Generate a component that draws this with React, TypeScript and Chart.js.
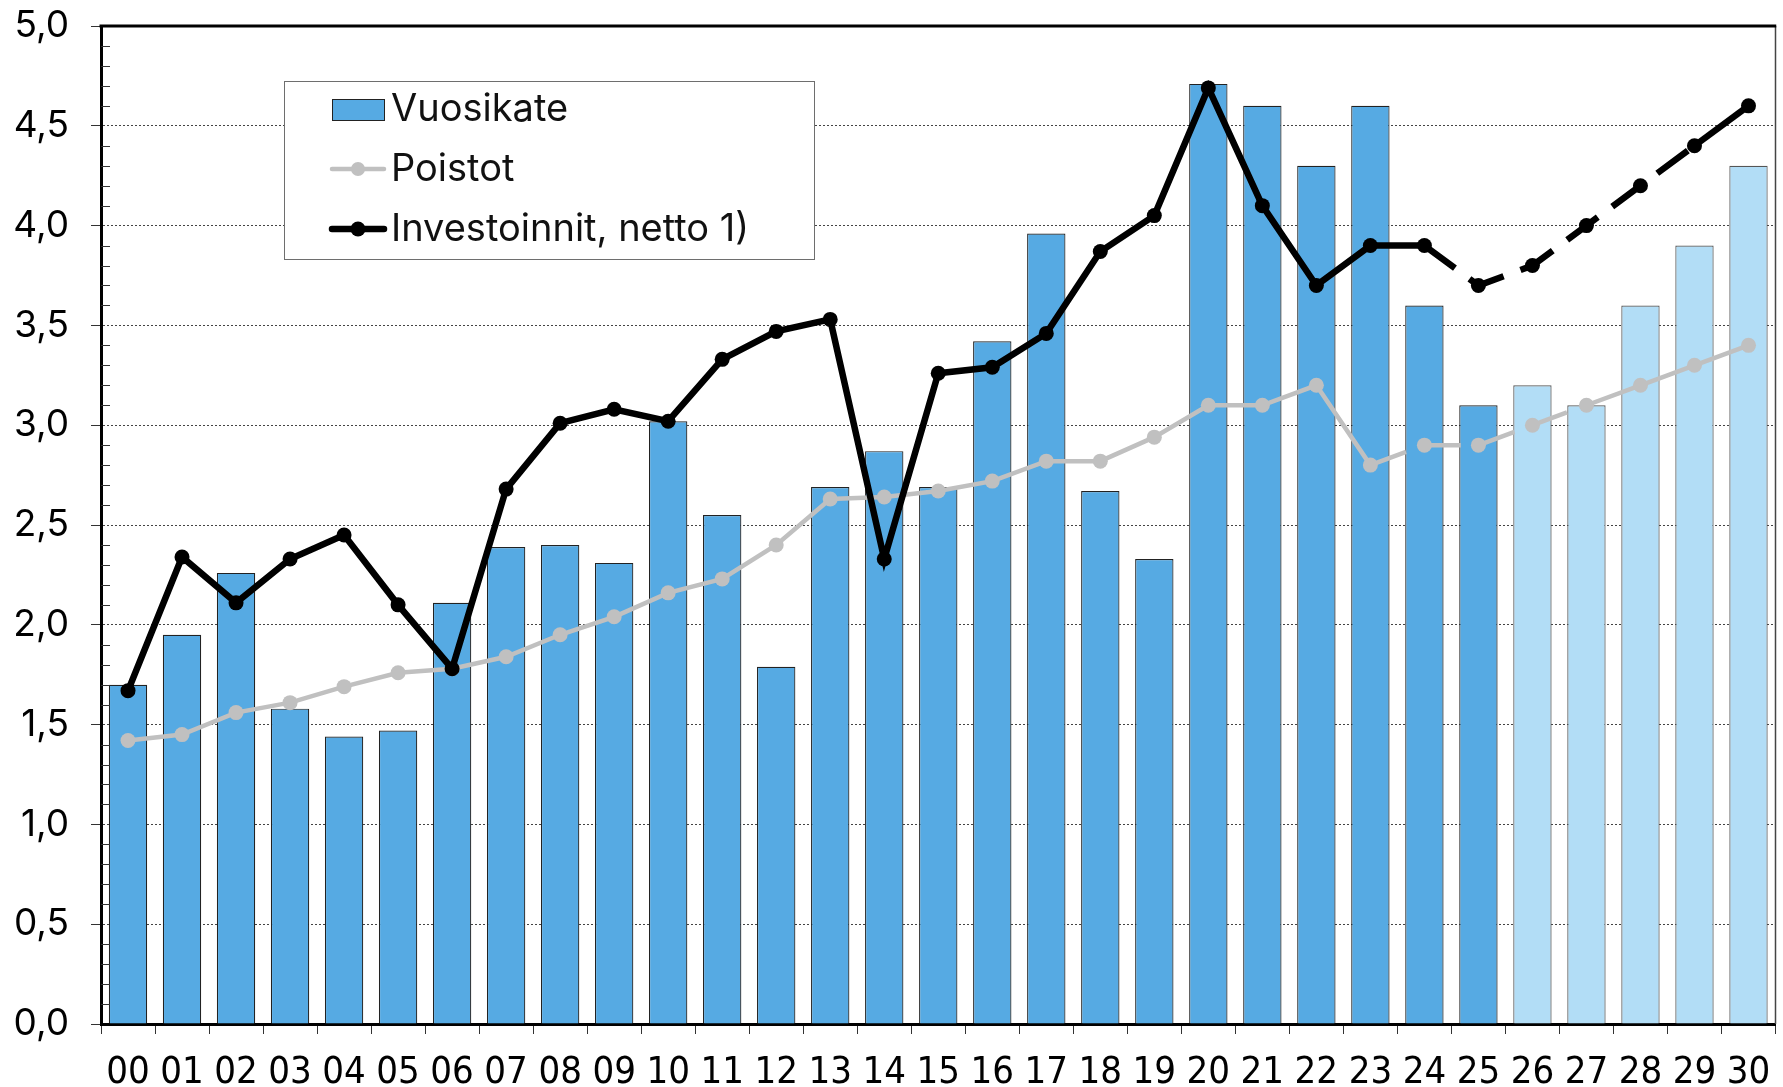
import React, { useEffect, useRef } from "react";
import { Chart, registerables } from "chart.js";

Chart.register(...registerables);

const categories = [
  "00", "01", "02", "03", "04", "05", "06", "07", "08", "09",
  "10", "11", "12", "13", "14", "15", "16", "17", "18", "19",
  "20", "21", "22", "23", "24", "25", "26", "27", "28", "29", "30",
];

const vuosikate = [
  1.70, 1.95, 2.26, 1.58, 1.44, 1.47, 2.11, 2.39, 2.40, 2.31,
  3.02, 2.55, 1.79, 2.69, 2.87, 2.69, 3.42, 3.96, 2.67, 2.33,
  4.71, 4.60, 4.30, 4.60, 3.60, 3.10, 3.20, 3.10, 3.60, 3.90, 4.30,
];

const poistot = [
  1.42, 1.45, 1.56, 1.61, 1.69, 1.76, 1.78, 1.84, 1.95, 2.04,
  2.16, 2.23, 2.40, 2.63, 2.64, 2.67, 2.72, 2.82, 2.82, 2.94,
  3.10, 3.10, 3.20, 2.80, 2.90, 2.90, 3.00, 3.10, 3.20, 3.30, 3.40,
];

const investoinnit = [
  1.67, 2.34, 2.11, 2.33, 2.45, 2.10, 1.78, 2.68, 3.01, 3.08,
  3.02, 3.33, 3.47, 3.53, 2.33, 3.26, 3.29, 3.46, 3.87, 4.05,
  4.69, 4.10, 3.70, 3.90, 3.90, 3.70, 3.80, 4.00, 4.20, 4.40, 4.60,
];

const seriesLabels = ["Vuosikate", "Poistot", "Investoinnit, netto 1)"];

// first category index of the lighter (forecast) bars
const forecastBarStart = 26;
// dashed line ranges: segment starting indexes [from, to)
const poistotDashed = [23, 27];
const investDashed = [24, 29];

const DARK_BLUE = "#56aae3";
const LIGHT_BLUE = "#b2ddf6";
const GRAY = "#c0c0c0";
const BLACK = "#000000";

const yFont = "Inter, 'Noto Sans', sans-serif";
const xFont = "'Liberation Sans Narrow', 'DejaVu Sans Condensed', 'Arial Narrow', sans-serif";

const framePlugin = {
  id: "frameAndMinor",
  afterDraw(chart: any) {
    const { ctx, chartArea } = chart;
    const y = chart.scales.y;
    ctx.save();
    // minor ticks inward
    ctx.strokeStyle = "#333";
    ctx.lineWidth = 1;
    for (let i = 1; i < 50; i++) {
      if (i % 5 === 0) continue;
      const py = Math.round(y.getPixelForValue(i / 10)) + 0.5;
      ctx.beginPath();
      ctx.moveTo(chartArea.left, py);
      ctx.lineTo(chartArea.left + 9, py);
      ctx.stroke();
    }
    // right border (thin)
    ctx.strokeStyle = "#444";
    ctx.lineWidth = 1.5;
    ctx.beginPath();
    ctx.moveTo(chartArea.right, chartArea.top);
    ctx.lineTo(chartArea.right, chartArea.bottom);
    ctx.stroke();
    // top border (thick)
    ctx.strokeStyle = "#000";
    ctx.lineWidth = 3;
    ctx.beginPath();
    ctx.moveTo(chartArea.left - 1.5, chartArea.top);
    ctx.lineTo(chartArea.right + 0.75, chartArea.top);
    ctx.stroke();
    ctx.restore();
  },
};

const legendPlugin = {
  id: "boxLegend",
  afterDraw(chart: any) {
    const { ctx } = chart;
    const x0 = 284, y0 = 81, x1 = 814, y1 = 259;
    ctx.save();
    ctx.fillStyle = "#fff";
    ctx.fillRect(x0, y0, x1 - x0, y1 - y0);
    ctx.strokeStyle = "#6e6e6e";
    ctx.lineWidth = 1;
    ctx.strokeRect(x0 + 0.5, y0 + 0.5, x1 - x0, y1 - y0);

    const symL = 332, symR = 384, textX = 391;
    const rows = [109, 169, 229];

    // bar symbol
    ctx.fillStyle = DARK_BLUE;
    ctx.fillRect(symL, rows[0] - 10, symR - symL, 21);
    ctx.strokeStyle = "#222";
    ctx.lineWidth = 1;
    ctx.strokeRect(symL + 0.5, rows[0] - 10 + 0.5, symR - symL, 21);

    // poistot symbol
    ctx.strokeStyle = GRAY;
    ctx.lineWidth = 4.5;
    ctx.lineCap = "round";
    ctx.beginPath();
    ctx.moveTo(symL, rows[1]);
    ctx.lineTo(symR, rows[1]);
    ctx.stroke();
    ctx.fillStyle = GRAY;
    ctx.beginPath();
    ctx.arc((symL + symR) / 2, rows[1], 7, 0, Math.PI * 2);
    ctx.fill();

    // investoinnit symbol
    ctx.strokeStyle = BLACK;
    ctx.lineWidth = 6.5;
    ctx.beginPath();
    ctx.moveTo(symL, rows[2]);
    ctx.lineTo(symR, rows[2]);
    ctx.stroke();
    ctx.fillStyle = BLACK;
    ctx.beginPath();
    ctx.arc((symL + symR) / 2, rows[2], 7.5, 0, Math.PI * 2);
    ctx.fill();

    ctx.fillStyle = "#111";
    ctx.font = `38px ${yFont}`;
    ctx.textBaseline = "middle";
    ctx.textAlign = "left";
    seriesLabels.forEach((t, i) => ctx.fillText(t, textX, rows[i] + 1));
    ctx.restore();
  },
};

function inRange(i: number, r: number[]) {
  return i >= r[0] && i < r[1];
}

export default function App() {
  const ref = useRef<HTMLCanvasElement | null>(null);

  useEffect(() => {
    document.body.style.margin = "0";
    const canvas = ref.current;
    if (!canvas) return;
    const chart = new Chart(canvas, {
      type: "bar",
      data: {
        labels: categories,
        datasets: [
          {
            type: "line",
            label: seriesLabels[2],
            data: investoinnit,
            borderColor: BLACK,
            backgroundColor: BLACK,
            borderWidth: 6.5,
            pointRadius: 7.5,
            pointHoverRadius: 7.5,
            pointBackgroundColor: BLACK,
            pointBorderWidth: 0,
            tension: 0,
            order: 0,
            borderCapStyle: "butt",
            segment: {
              borderDash: (c: any) => (inRange(c.p0DataIndex, investDashed) ? [38, 18] : undefined),
            },
          } as any,
          {
            type: "line",
            label: seriesLabels[1],
            data: poistot,
            borderColor: GRAY,
            backgroundColor: GRAY,
            borderWidth: 4.5,
            pointRadius: 7.5,
            pointHoverRadius: 7.5,
            pointBackgroundColor: GRAY,
            pointBorderWidth: 0,
            tension: 0,
            order: 1,
            segment: {
              borderDash: (c: any) => (inRange(c.p0DataIndex, poistotDashed) ? [38, 18] : undefined),
            },
          } as any,
          {
            type: "bar",
            label: seriesLabels[0],
            data: vuosikate,
            backgroundColor: categories.map((_, i) => (i >= forecastBarStart ? LIGHT_BLUE : DARK_BLUE)),
            borderColor: categories.map((_, i) => (i >= forecastBarStart ? "#555" : "#222")),
            borderWidth: 1.2,
            barPercentage: 0.71,
            categoryPercentage: 1,
            order: 2,
          },
        ],
      },
      options: {
        responsive: false,
        animation: false,
        layout: { padding: { top: 26, right: 2, left: 0, bottom: 0 } },
        plugins: {
          legend: { display: false },
          tooltip: { enabled: false },
        },
        scales: {
          x: {
            offset: true,
            grid: {
              offset: true,
              drawOnChartArea: false,
              drawTicks: true,
              tickLength: 10,
              tickColor: "#333",
              tickWidth: 1,
            },
            border: { display: true, color: "#000", width: 3 },
            ticks: {
              color: "#000",
              font: { family: xFont, size: 38 },
              padding: 16,
              maxRotation: 0,
              autoSkip: false,
            },
            afterFit: (s: any) => {
              s.height = 63;
              s.paddingLeft = 0;
              s.paddingRight = 0;
            },
          },
          y: {
            min: 0,
            max: 5,
            ticks: {
              stepSize: 0.5,
              color: "#000",
              font: { family: yFont, size: 37 },
              padding: 22,
              callback: (v: any) => Number(v).toFixed(1).replace(".", ","),
            },
            grid: {
              color: "#444",
              lineWidth: 1,
              drawTicks: true,
              tickLength: 10,
              tickColor: "#333",
            },
            border: { display: true, color: "#000", width: 3, dash: [2, 2] },
            afterFit: (s: any) => {
              s.width = 101;
              s.paddingTop = 0;
              s.paddingBottom = 0;
            },
          },
        },
      },
      plugins: [framePlugin, legendPlugin],
    });
    return () => chart.destroy();
  }, []);

  return (
    <div style={{ width: 1783, height: 1087 }}>
      <canvas ref={ref} width={1783} height={1087} style={{ display: "block" }} />
    </div>
  );
}
